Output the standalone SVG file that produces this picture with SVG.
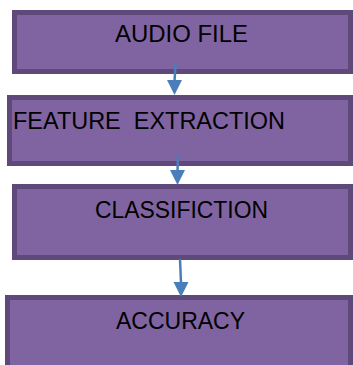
<svg xmlns="http://www.w3.org/2000/svg" width="353" height="365" viewBox="0 0 353 365">
  <defs>
    <style>
      .box { fill: #8064A2; stroke: #5F497A; stroke-width: 5; }
      .lbl { font-family: "Liberation Sans", Arial, sans-serif; font-size: 24px; fill: #000; }
      .arr { stroke: #4A7EBB; stroke-width: 2.5; fill: none; }
      .head { fill: #4A7EBB; }
    </style>
  </defs>
  <rect width="353" height="365" fill="#fff"/>

  <g id="audio-file">
    <rect class="box" x="14.5" y="12.5" width="336" height="59"/>
    <text class="lbl" x="115" y="42" textLength="133" lengthAdjust="spacingAndGlyphs">AUDIO FILE</text>
  </g>

  <g id="feature-extraction">
    <rect class="box" x="9.5" y="97.5" width="341" height="66"/>
    <text class="lbl" x="13" y="129" textLength="272" lengthAdjust="spacingAndGlyphs" xml:space="preserve">FEATURE  EXTRACTION</text>
  </g>

  <g id="classification">
    <rect class="box" x="14.5" y="186.5" width="336" height="71"/>
    <text class="lbl" x="95" y="218" textLength="173" lengthAdjust="spacingAndGlyphs">CLASSIFICTION</text>
  </g>

  <g id="accuracy">
    <rect class="box" x="7.5" y="297.5" width="343" height="70"/>
    <text class="lbl" x="116" y="329" textLength="129" lengthAdjust="spacingAndGlyphs">ACCURACY</text>
  </g>

  <g id="connectors">
    <line class="arr" x1="175.5" y1="64" x2="174.5" y2="81"/>
    <polygon class="head" points="167,80 182,80 174.5,95"/>
    <line class="arr" x1="178" y1="156" x2="177.5" y2="171"/>
    <polygon class="head" points="170,170 185,170 177.5,185"/>
    <line class="arr" x1="180" y1="259" x2="181" y2="283"/>
    <polygon class="head" points="173.5,282 188.5,282 181,297"/>
  </g>
</svg>
